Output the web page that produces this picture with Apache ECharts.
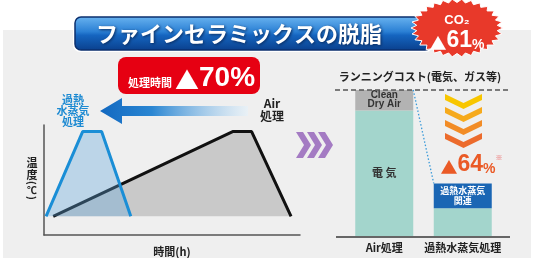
<!DOCTYPE html>
<html><head><meta charset="utf-8">
<script src="https://cdn.jsdelivr.net/npm/echarts@6/dist/echarts.min.js"></script>
<style>html,body{margin:0;padding:0;background:#fff}#c{width:536px;height:258px}</style>
</head><body><div id="c"></div>
<script>
// ---- data ----
const steamTime = [0.8, 15.1, 22.5, 33.9];
const steamTemp = [17, 94, 94, 17];
const airTime = [3.6, 73.7, 81.1, 96.5];
const airTemp = [17, 94, 94, 17];
const baseTemp = 17;
const costCategories = ['Air処理', '過熱水蒸気処理'];
const electricCost = [86, 19];
const steamCost = [0, 17];
const cdaCost = [14, 0];

const JP = '"Noto Sans CJK JP", "Noto Sans", sans-serif';
const NUM = '"Liberation Sans", Arial, sans-serif';

function burst(cx, cy, rx, ry, n, inner) {
  const pts = [];
  for (let i = 0; i < 2 * n; i++) {
    const a = Math.PI * i / n;
    const r = i % 2 ? inner : 1;
    pts.push([cx + rx * r * Math.cos(a), cy + ry * r * Math.sin(a)]);
  }
  return pts;
}
function chevRight(x) {
  return [[x,132],[x+7,132],[x+15,145],[x+7,158],[x,158],[x+8,145]];
}
function chevDown(y) {
  return [[445,y],[463.5,y+9],[482,y],[482,y+6],[463.5,y+15],[445,y+6]];
}
const orange = ['#f8c600', '#f6aa1c', '#f28c26', '#ec6b2c'];

const chart = echarts.init(document.getElementById('c'));
const graphics = [
  {type:'rect', z:-10, shape:{x:3,y:30,width:528,height:228}, style:{fill:'#efefef'}},
  // title banner
  {type:'rect', z:50, shape:{x:73,y:15,width:360,height:37,r:7}, style:{fill:'#ffffff'}},
  {type:'rect', z:51, shape:{x:75,y:17,width:356,height:33,r:6},
    style:{fill:new echarts.graphic.LinearGradient(0,0,0,1,[
      {offset:0,color:'#6ab4f0'},{offset:0.45,color:'#2a7fd4'},{offset:0.55,color:'#1565c0'},{offset:1,color:'#0a3f8c'}]),
      stroke:'#0b2f6e', lineWidth:1.5}},
  {type:'text', z:52, style:{text:'ファインセラミックスの脱脂', x:239, y:34, align:'center', verticalAlign:'middle',
    fill:'#fff', font:'bold 22px '+JP, textShadowColor:'#082a5e', textShadowBlur:3, textShadowOffsetX:1, textShadowOffsetY:1}},
  // CO2 badge
  {type:'polygon', z:60, shape:{points:burst(457,28,46,29,30,0.88)}, style:{fill:'#e8392a', stroke:'#fff', lineWidth:1}},
  {type:'text', z:61, style:{text:'CO₂', x:457, y:20, align:'center', verticalAlign:'middle', fill:'#fff', font:'bold 13px '+NUM}},
  {type:'text', z:61, style:{text:'{t|▲}{n|61}{p|%}', x:457, y:41, align:'center', verticalAlign:'middle',
    rich:{t:{fontSize:17,fill:'#fff',fontFamily:JP,verticalAlign:'bottom'},n:{fontSize:23,fontWeight:'bold',fill:'#fff',fontFamily:NUM,verticalAlign:'bottom'},p:{fontSize:14,fontWeight:'bold',fill:'#fff',fontFamily:NUM,verticalAlign:'bottom'}}}},
  // red box
  {type:'rect', z:20, shape:{x:118,y:57,width:142,height:37,r:8}, style:{fill:'#e60012'}},
  {type:'text', z:21, style:{text:'処理時間', x:128, y:83, align:'left', verticalAlign:'middle', fill:'#fff', font:'bold 11px '+JP}},
  {type:'text', z:21, style:{text:'{t|▲}{n|70%}', x:175, y:78, align:'left', verticalAlign:'middle',
    rich:{t:{fontSize:24,fill:'#fff',fontFamily:JP,verticalAlign:'bottom'},n:{fontSize:28,fontWeight:'bold',fill:'#fff',fontFamily:NUM,verticalAlign:'bottom'}}}},
  // blue arrow
  {type:'polygon', z:20, shape:{points:[[100,111],[122,98],[122,106],[248,106],[248,116],[122,116],[122,124]]},
    style:{fill:new echarts.graphic.LinearGradient(0,0,1,0,[{offset:0,color:'#1268c0'},{offset:0.35,color:'#2a86d2'},{offset:1,color:'rgba(230,242,250,0.6)'}],false)}},
  {type:'text', z:21, style:{text:'過熱\n水蒸気\n処理', x:73, y:111, align:'center', verticalAlign:'middle', fill:'#1d8ad2', font:'bold 11px '+JP, lineHeight:11}},
  {type:'text', z:21, style:{text:'Air\n処理', x:272, y:110, align:'center', verticalAlign:'middle', fill:'#222', font:'bold 12px '+JP, lineHeight:13}},
  // left y-axis name (vertical)
  {type:'text', z:21, style:{text:'温\n度', x:32, y:169, align:'center', verticalAlign:'middle', fill:'#222', font:'bold 11px '+JP, lineHeight:12}},
  {type:'text', z:21, style:{text:'(', x:32, y:183, align:'center', verticalAlign:'middle', fill:'#222', font:'bold 10px '+JP}, rotation:-Math.PI/2, originX:32, originY:183},
  {type:'text', z:21, style:{text:'℃', x:32, y:190, align:'center', verticalAlign:'middle', fill:'#222', font:'bold 10px '+JP}},
  {type:'text', z:21, style:{text:')', x:32, y:198, align:'center', verticalAlign:'middle', fill:'#222', font:'bold 10px '+JP}, rotation:-Math.PI/2, originX:32, originY:198},
  // right title
  {type:'text', z:21, style:{text:'ランニングコスト(電気、ガス等)', x:420, y:77, align:'center', verticalAlign:'middle', fill:'#222', font:'bold 11px '+JP}},
  {type:'line', z:21, shape:{x1:335,y1:90,x2:508,y2:90}, style:{stroke:'#555', lineWidth:1.5, lineDash:[5,3]}},
  {type:'line', z:21, shape:{x1:336,y1:237,x2:510,y2:237}, style:{stroke:'#666', lineWidth:2}},
  // 64%
  {type:'text', z:21, style:{text:'{t|▲}{n|64}{p|%}', x:468, y:165, align:'center', verticalAlign:'middle',
    rich:{t:{fontSize:17,fill:'#ea5a26',fontFamily:JP,verticalAlign:'bottom'},n:{fontSize:23,fontWeight:'bold',fill:'#ea5a26',fontFamily:NUM,verticalAlign:'bottom'},p:{fontSize:14,fontWeight:'bold',fill:'#ea5a26',fontFamily:NUM,verticalAlign:'bottom'}}}},
  {type:'text', z:21, style:{text:'※', x:499, y:157, align:'center', verticalAlign:'middle', fill:'#e55', font:'7px '+JP}}
];
[296, 307, 318].forEach(x => graphics.push({type:'polygon', z:20, shape:{points:chevRight(x)}, style:{fill:'#a47bc3'}}));
[94, 107, 120, 133].forEach((y, i) => graphics.push({type:'polygon', z:20, shape:{points:chevDown(y)}, style:{fill:orange[i]}}));

const axisStyle = {show:true, lineStyle:{color:'#555', width:1.5}};
chart.setOption({
  animation:false,
  graphic: graphics,
  grid:[
    {left:44, top:125, width:256, height:112},
    {left:345, top:90, width:157, height:146}
  ],
  xAxis:[
    {type:'value', gridIndex:0, min:0, max:100, axisLine:axisStyle, axisTick:{show:false}, axisLabel:{show:false}, splitLine:{show:false},
      name:'時間(h)', nameLocation:'middle', nameGap:11, nameTextStyle:{fontSize:11, fontWeight:'bold', color:'#222', fontFamily:JP}},
    {type:'category', gridIndex:1, data:costCategories, axisLine:{show:false}, axisTick:{show:false},
      axisLabel:{interval:0, margin:6, fontSize:11, fontWeight:'bold', color:'#222', fontFamily:JP}}
  ],
  yAxis:[
    {type:'value', gridIndex:0, min:0, max:100, axisLine:axisStyle, axisTick:{show:false}, axisLabel:{show:false}, splitLine:{show:false}},
    {type:'value', gridIndex:1, min:0, max:100, show:false}
  ],
  series:[
    {type:'line', xAxisIndex:0, yAxisIndex:0, data:airTime.map((t,i)=>[t,airTemp[i]]), symbol:'none',
      lineStyle:{color:'#111', width:3}, areaStyle:{color:'#c9c9c9', opacity:1, origin:baseTemp}, z:3},
    {type:'line', xAxisIndex:0, yAxisIndex:0, data:steamTime.map((t,i)=>[t,steamTemp[i]]), symbol:'none',
      lineStyle:{color:'#1a8ed6', width:3}, areaStyle:{color:'rgba(95,165,220,0.35)', opacity:1, origin:baseTemp}, z:4},
    {type:'bar', xAxisIndex:1, yAxisIndex:1, stack:'cost', name:'電気', data:electricCost, barWidth:58,
      itemStyle:{color:'#a3d5cc'},
      label:{show:true, position:'inside', formatter:p=>p.dataIndex===0?'電 気':'', fontSize:11, fontWeight:'bold', color:'#333', fontFamily:JP}},
    {type:'bar', xAxisIndex:1, yAxisIndex:1, stack:'cost', name:'過熱水蒸気関連', data:steamCost, barWidth:58,
      itemStyle:{color:'#1a66b4'},
      label:{show:true, position:'inside', formatter:p=>p.value>0?'過熱水蒸気\n関連':'', fontSize:9, fontWeight:'bold', color:'#fff', fontFamily:JP, lineHeight:10}},
    {type:'bar', xAxisIndex:1, yAxisIndex:1, stack:'cost', name:'Clean Dry Air', data:cdaCost, barWidth:58,
      itemStyle:{color:'#b3b3b3'},
      label:{show:true, position:'inside', formatter:p=>p.value>0?'Clean\nDry Air':'', fontSize:10, fontWeight:'bold', color:'#333', fontFamily:NUM, lineHeight:9}}
  ]
});

// dotted connector from top of first bar to top of second bar
const tot0 = electricCost[0] + steamCost[0] + cdaCost[0];
const tot1 = electricCost[1] + steamCost[1] + cdaCost[1];
const p0 = chart.convertToPixel({xAxisIndex:1, yAxisIndex:1}, [0, tot0]);
const p1 = chart.convertToPixel({xAxisIndex:1, yAxisIndex:1}, [1, tot1]);
chart.setOption({graphic:[{id:'conn', type:'line', z:22, shape:{x1:p0[0]+29, y1:p0[1], x2:p1[0]-29, y2:p1[1]},
  style:{stroke:'#3a9ad9', lineWidth:1.3, lineDash:[1.5,2]}}]});
</script></body></html>
